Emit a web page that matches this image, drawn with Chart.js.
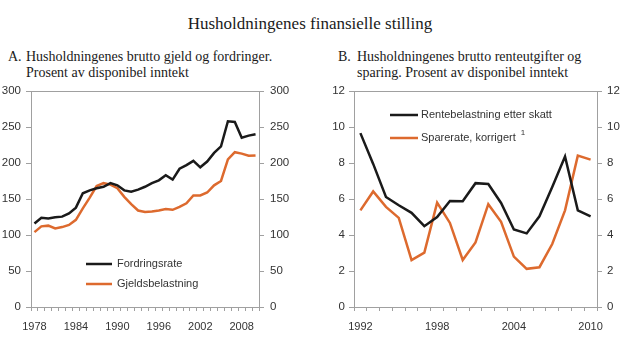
<!DOCTYPE html>
<html>
<head>
<meta charset="utf-8">
<script src="https://cdn.jsdelivr.net/npm/chart.js@4.4.0/dist/chart.umd.min.js"></script>
<style>
  html, body { margin: 0; padding: 0; background: #fff; }
  body { width: 620px; height: 357px; position: relative; overflow: hidden; }
  .t { position: absolute; font-family: "Liberation Serif", "Times New Roman", serif; color: #1a1a1a; white-space: nowrap; }
  #main { left: 0; width: 620px; text-align: center; top: 15px; font-size: 17px; line-height: 17px; }
  .pt { font-size: 14px; line-height: 16px; }
  canvas { position: absolute; top: 0; }
</style>
</head>
<body>
<div id="main" class="t">Husholdningenes finansielle stilling</div>
<div class="t pt" style="left:8px; top:49px;">A.</div>
<div class="t pt" style="left:26px; top:49px;">Husholdningenes brutto gjeld og fordringer.<br>Prosent av disponibel inntekt</div>
<div class="t pt" style="left:338px; top:49px;">B.</div>
<div class="t pt" style="left:357px; top:49px;">Husholdningenes brutto renteutgifter og<br>sparing. Prosent av disponibel inntekt</div>
<canvas id="cA" width="310" height="357" style="left:0;"></canvas>
<canvas id="cB" width="310" height="357" style="left:310px;"></canvas>
<script>
// ---------- Data ----------
const yearsA = ['1978','1979','1980','1981','1982','1983','1984','1985','1986','1987','1988','1989','1990','1991','1992','1993','1994','1995','1996','1997','1998','1999','2000','2001','2002','2003','2004','2005','2006','2007','2008','2009','2010'];
const fordringsrate = [116,124,123,124.6,125.5,130,138,158,162,165,167,172,169,162,160,163,167,172,176,183,177,192,197,203,194,202,214,223,258,257,235,238,240];
const gjeldsbelastning = [104,112,113,109,111,114,121,137,152,168,172,170,165,153,143,134,132,132.5,134,136,135,139,144,155,155,159,169,175,205,215,213,210,210.5];
const xTicksA = ['1978','1984','1990','1996','2002','2008'];

const yearsB = ['1992','1993','1994','1995','1996','1997','1998','1999','2000','2001','2002','2003','2004','2005','2006','2007','2008','2009','2010'];
const rentebelastning = [9.66,7.95,6.11,5.65,5.23,4.49,5.0,5.89,5.87,6.88,6.83,5.78,4.31,4.09,5.04,6.66,8.36,5.37,5.04];
const sparerate = [5.37,6.42,5.56,4.95,2.61,3.02,5.8,4.67,2.61,3.59,5.71,4.73,2.8,2.12,2.21,3.5,5.37,8.41,8.19];
const xTicksB = ['1992','1998','2004','2010'];

// ---------- Styling ----------
const BLACK = '#1a1a1a';
const ORANGE = '#dd6a2e';
const AXIS = '#a0a0a0';
const TXT = '#333333';
const SANS = '"Liberation Sans", Arial, sans-serif';

const boxPlugin = {
  id: 'box',
  afterDraw(chart) {
    const a = chart.chartArea, ctx = chart.ctx;
    ctx.save();
    ctx.strokeStyle = AXIS; ctx.lineWidth = 1;
    ctx.beginPath();
    ctx.moveTo(a.left, a.top + 0.5); ctx.lineTo(a.right, a.top + 0.5);
    ctx.stroke();
    ctx.restore();
  }
};

const legendPlugin = {
  id: 'inlegend',
  afterDraw(chart, args, opts) {
    const ctx = chart.ctx;
    ctx.save();
    ctx.font = '11px ' + SANS;
    ctx.textBaseline = 'middle';
    chart.data.datasets.forEach((ds, i) => {
      const it = opts.items[i];
      ctx.strokeStyle = ds.borderColor; ctx.lineWidth = 2.5;
      ctx.beginPath(); ctx.moveTo(it.x1, it.y); ctx.lineTo(it.x2, it.y); ctx.stroke();
      ctx.fillStyle = TXT;
      ctx.fillText(ds.label, it.tx, it.y);
      if (it.sup) {
        const w = ctx.measureText(ds.label).width;
        ctx.font = '8px ' + SANS;
        ctx.fillText(it.sup, it.tx + w + 5, it.y - 5);
        ctx.font = '11px ' + SANS;
      }
    });
    ctx.restore();
  }
};

function yAxis(pos, max, step, width, pad) {
  return {
    type: 'linear', position: pos, min: 0, max: max,
    afterFit(s) { s.width = width; },
    border: { color: AXIS, width: 1 },
    grid: { drawOnChartArea: false, drawTicks: true, tickLength: 5, color: AXIS },
    ticks: { stepSize: step, padding: pad, color: TXT, font: { family: SANS, size: 11.5 } }
  };
}

function xAxis(tickList) {
  return {
    type: 'category', offset: true,
    afterFit(s) { s.height = 50; },
    border: { color: AXIS, width: 1 },
    grid: { offset: true, drawOnChartArea: false, drawTicks: true, tickLength: 4, color: AXIS },
    ticks: {
      autoSkip: false, maxRotation: 0, minRotation: 0, padding: 9, color: TXT,
      font: { family: SANS, size: 11 },
      callback(v) { const l = this.getLabelForValue(v); return tickList.includes(l) ? l : ''; }
    }
  };
}

function lineDs(label, data, color) {
  return { label, data, borderColor: color, backgroundColor: color, borderWidth: 2.5,
           pointRadius: 0, tension: 0, fill: false, yAxisID: 'y' };
}

Chart.defaults.font.family = SANS;

new Chart(document.getElementById('cA'), {
  type: 'line',
  data: { labels: yearsA, datasets: [
    lineDs('Fordringsrate', fordringsrate, BLACK),
    lineDs('Gjeldsbelastning', gjeldsbelastning, ORANGE)
  ]},
  options: {
    responsive: false, animation: false,
    layout: { padding: { top: 91, left: 0, right: 0, bottom: 0 } },
    plugins: { legend: { display: false }, tooltip: { enabled: false },
      inlegend: { items: [ { x1: 86, x2: 112, tx: 117, y: 264 }, { x1: 86, x2: 112, tx: 117, y: 284 } ] } },
    scales: {
      x: xAxis(xTicksA),
      y: yAxis('left', 300, 50, 31, 5),
      y2: yAxis('right', 300, 50, 51, 6)
    }
  },
  plugins: [boxPlugin, legendPlugin]
});

new Chart(document.getElementById('cB'), {
  type: 'line',
  data: { labels: yearsB, datasets: [
    lineDs('Rentebelastning etter skatt', rentebelastning, BLACK),
    lineDs('Sparerate, korrigert', sparerate, ORANGE)
  ]},
  options: {
    responsive: false, animation: false,
    layout: { padding: { top: 91, left: 0, right: 0, bottom: 0 } },
    plugins: { legend: { display: false }, tooltip: { enabled: false },
      inlegend: { items: [ { x1: 80, x2: 108, tx: 111, y: 115 }, { x1: 80, x2: 108, tx: 111, y: 138, sup: '1' } ] } },
    scales: {
      x: xAxis(xTicksB),
      y: yAxis('left', 12, 2, 44, 4),
      y2: yAxis('right', 12, 2, 23, 5)
    }
  },
  plugins: [boxPlugin, legendPlugin]
});
</script>
</body>
</html>
